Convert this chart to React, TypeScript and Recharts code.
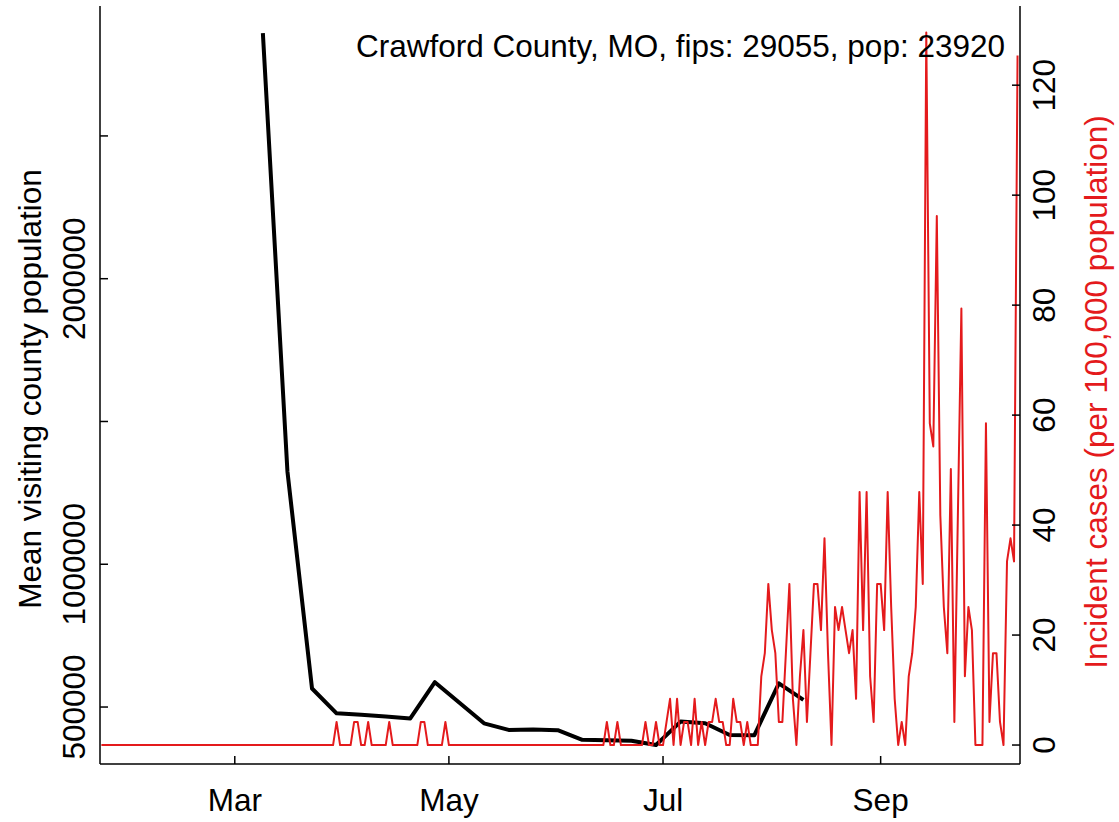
import { LineChart, Line, XAxis, YAxis } from 'recharts';

const FONT = '"Liberation Sans", Arial, Helvetica, sans-serif';
const RED = '#e41a1c';
const FS = 31.5;

// day of year 2020 (Jan 1 = 0); first incidence value is Jan 23
const startDay = 22;

// incident cases per 100,000 population, one value per day
const incidence = [
  0, 0, 0, 0, 0, 0, 0, 0, 0, 0, 0, 0, 0, 0, 0, 0, 0, 0, 0, 0, 0, 0, 0, 0, 0, 0, 0, 0, 0, 0, 0, 0, 0, 0,
  0, 0, 0, 0, 0, 0, 0, 0, 0, 0, 0, 0, 0, 0, 0, 0, 0, 0, 0, 0, 0, 0, 0, 0, 0, 0, 0, 0, 0, 0, 0, 0, 0,
  4.2, 0, 0, 0, 0, 4.2, 4.2, 0, 0, 4.2, 0, 0, 0, 0, 0, 4.2, 0, 0, 0, 0, 0, 0, 0, 0, 4.2, 4.2, 0, 0, 0, 0, 0, 4.2,
  0, 0, 0, 0, 0, 0, 0, 0, 0, 0, 0, 0, 0, 0, 0, 0, 0, 0, 0, 0, 0, 0, 0, 0, 0, 0, 0, 0, 0, 0, 0, 0, 0, 0, 0, 0, 0, 0, 0, 0, 0, 0, 0, 0, 0,
  4.2, 0, 0, 4.2, 0, 0, 0, 0, 0, 0, 0, 4.2, 0, 0, 4.2, 0, 0, 4.2, 8.4, 0, 8.4, 0, 4.2, 4.2, 0, 8.4, 0, 4.2, 0,
  4.2, 4.2, 8.4, 4.2, 4.2, 0, 0, 8.4, 4.2, 4.2, 0, 4.2, 0, 0, 0,
  12.5, 16.7, 29.3, 20.9, 16.7, 4.2, 4.2, 16.7, 29.3, 8.4, 0, 12.5, 20.9, 4.2, 16.7, 29.3, 29.3, 20.9, 37.6, 16.7,
  0, 25.1, 20.9, 25.1, 20.9, 16.7, 20.9, 8.4, 46.0, 20.9, 46.0, 12.5, 4.2, 29.3, 29.3, 20.9, 46.0, 25.1, 8.4, 0,
  4.2, 0, 12.5, 16.7, 25.1, 46.0, 29.3, 129.6, 58.5, 54.3, 96.2, 41.8, 25.1, 16.7, 50.2, 4.2, 41.8, 79.4, 12.5,
  25.1, 20.9, 0, 0, 0, 58.5, 4.2, 16.7, 16.7, 4.2, 0, 33.4, 37.6, 33.4, 125.4,
];

// weekly mean visiting county population
const visitDays = [68, 75, 82, 89, 96, 103, 110, 117, 124, 131, 138, 145, 152, 159, 166, 173, 180, 187, 194, 201, 208, 215, 222];
const visitPop = [
  2860000, 1325000, 565000, 478000, 473000, 467000, 460000, 587000, 515000, 443000, 420000, 421000,
  419000, 385000, 384000, 382000, 367000, 449000, 443000, 402000, 401000, 583000, 525000,
];

const monthTicks = [60, 121, 182, 244];
const monthLabels = ['Mar', 'May', 'Jul', 'Sep'];
const popTicks = [500000, 1000000, 1500000, 2000000, 2500000];
const popLabels = ['500000', '1000000', '', '2000000', ''];
const caseTicks = [0, 20, 40, 60, 80, 100, 120];

const title = 'Crawford County, MO, fips: 29055, pop: 23920';

const rows = incidence.map((v, i) => {
  const day = startDay + i;
  const k = visitDays.indexOf(day);
  return { day, cases: v, pop: k >= 0 ? visitPop[k] : null };
});

function BottomTick(props: any) {
  const { x, y, payload } = props;
  const i = monthTicks.indexOf(payload.value);
  return (
    <g>
      <line x1={x} y1={y} x2={x} y2={y - 8} stroke="#000" strokeWidth={1.5} />
      <text x={x} y={y + 47} textAnchor="middle" fontSize={FS} fontFamily={FONT} fill="#000">
        {monthLabels[i]}
      </text>
    </g>
  );
}

function LeftTick(props: any) {
  const { x, y, payload } = props;
  const i = popTicks.indexOf(payload.value);
  const tx = x - 15;
  return (
    <g>
      <line x1={x} y1={y} x2={x + 8} y2={y} stroke="#000" strokeWidth={1.5} />
      <text x={tx} y={y} transform={`rotate(-90, ${tx}, ${y})`} textAnchor="middle" fontSize={FS} fontFamily={FONT} fill="#000">
        {popLabels[i]}
      </text>
    </g>
  );
}

function RightTick(props: any) {
  const { x, y, payload } = props;
  const tx = x + 35;
  return (
    <g>
      <line x1={x} y1={y} x2={x - 8} y2={y} stroke="#000" strokeWidth={1.5} />
      <text x={tx} y={y} transform={`rotate(-90, ${tx}, ${y})`} textAnchor="middle" fontSize={FS} fontFamily={FONT} fill="#000">
        {payload.value}
      </text>
    </g>
  );
}

export default function App() {
  return (
    <div style={{ position: 'absolute', left: 0, top: 0, width: 1119, height: 822, background: '#fff' }}>
      <LineChart width={1119} height={822} data={rows} margin={{ top: 6, right: 0, bottom: 0, left: 0 }}>
        <XAxis
          dataKey="day"
          type="number"
          domain={[21.6, 283.7]}
          allowDataOverflow
          ticks={monthTicks}
          interval={0}
          height={58}
          tickSize={0}
          tickMargin={0}
          tickLine={false}
          axisLine={{ stroke: '#000', strokeWidth: 1.5 }}
          tick={<BottomTick />}
        />
        <XAxis
          xAxisId="top"
          orientation="top"
          dataKey="day"
          type="number"
          domain={[21.6, 283.7]}
          height={0}
          tick={false}
          tickLine={false}
          axisLine={{ stroke: '#000', strokeWidth: 1.5 }}
        />
        <YAxis
          yAxisId="left"
          type="number"
          domain={[300500, 2955000]}
          allowDataOverflow
          ticks={popTicks}
          interval={0}
          width={100}
          tickSize={0}
          tickMargin={0}
          tickLine={false}
          axisLine={{ stroke: '#000', strokeWidth: 1.5 }}
          tick={<LeftTick />}
          label={{
            content: () => (
              <text x={41} y={389} transform="rotate(-90, 41, 389)" textAnchor="middle" fontSize={FS} fontFamily={FONT} fill="#000">
                Mean visiting county population
              </text>
            ),
          }}
        />
        <YAxis
          yAxisId="right"
          orientation="right"
          type="number"
          domain={[-3.45, 134.4]}
          allowDataOverflow
          ticks={caseTicks}
          interval={0}
          width={99}
          tickSize={0}
          tickMargin={0}
          tickLine={false}
          axisLine={{ stroke: '#000', strokeWidth: 1.5 }}
          tick={<RightTick />}
          label={{
            content: () => (
              <g>
                <text x={1107} y={392} transform="rotate(-90, 1107, 392)" textAnchor="middle" fontSize={FS} fontFamily={FONT} fill={RED}>
                  Incident cases (per 100,000 population)
                </text>
                <text x={1005} y={57} textAnchor="end" fontSize={FS} fontFamily={FONT} fill="#000">
                  {title}
                </text>
              </g>
            ),
          }}
        />
        <Line
          yAxisId="left"
          dataKey="pop"
          type="linear"
          stroke="#000"
          strokeWidth={4}
          strokeLinejoin="round"
          dot={false}
          activeDot={false}
          connectNulls
          isAnimationActive={false}
        />
        <Line
          yAxisId="right"
          dataKey="cases"
          type="linear"
          stroke={RED}
          strokeWidth={2}
          strokeLinejoin="round"
          dot={false}
          activeDot={false}
          isAnimationActive={false}
        />
      </LineChart>
    </div>
  );
}
